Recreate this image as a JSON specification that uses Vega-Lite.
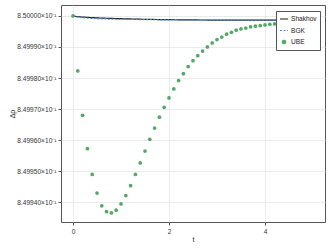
{
  "$schema": "https://vega.github.io/schema/vega-lite/v6.json",
  "width": 264,
  "height": 217,
  "autosize": "none",
  "padding": {"left": 61, "top": 5, "right": 7, "bottom": 27},
  "background": "white",
  "config": {
    "font": "Liberation Sans",
    "view": {"stroke": "#555555", "strokeWidth": 1},
    "axis": {
      "domain": false,
      "gridColor": "#e6e6e6",
      "gridWidth": 0.8,
      "tickColor": "#555555",
      "tickSize": 3,
      "labelFontSize": 6.6,
      "labelColor": "#333333",
      "titleFontSize": 7,
      "titleFontWeight": "normal",
      "titleColor": "#222222"
    }
  },
  "datasets": {
    "lines": [
      {"t": 0, "rho": 0.8500000, "series": "Shakhov"},
      {"t": 0.1, "rho": 0.84999977, "series": "Shakhov"},
      {"t": 0.25, "rho": 0.84999958, "series": "Shakhov"},
      {"t": 0.5, "rho": 0.84999936, "series": "Shakhov"},
      {"t": 1, "rho": 0.8499991, "series": "Shakhov"},
      {"t": 1.5, "rho": 0.8499989, "series": "Shakhov"},
      {"t": 2, "rho": 0.84999878, "series": "Shakhov"},
      {"t": 3, "rho": 0.84999865, "series": "Shakhov"},
      {"t": 4, "rho": 0.84999862, "series": "Shakhov"},
      {"t": 5, "rho": 0.84999862, "series": "Shakhov"},
      {"t": 0, "rho": 0.8500000, "series": "BGK"},
      {"t": 0.1, "rho": 0.8499996, "series": "BGK"},
      {"t": 0.25, "rho": 0.84999936, "series": "BGK"},
      {"t": 0.5, "rho": 0.8499991, "series": "BGK"},
      {"t": 1, "rho": 0.8499989, "series": "BGK"},
      {"t": 1.5, "rho": 0.8499988, "series": "BGK"},
      {"t": 2, "rho": 0.8499987, "series": "BGK"},
      {"t": 3, "rho": 0.84999865, "series": "BGK"},
      {"t": 4, "rho": 0.84999862, "series": "BGK"},
      {"t": 5, "rho": 0.84999862, "series": "BGK"}
    ],
    "ube": [
      {"t": 0.0, "rho": 0.8500000, "series": "UBE"},
      {"t": 0.1, "rho": 0.8499823, "series": "UBE"},
      {"t": 0.2, "rho": 0.8499680, "series": "UBE"},
      {"t": 0.3, "rho": 0.8499573, "series": "UBE"},
      {"t": 0.4, "rho": 0.8499490, "series": "UBE"},
      {"t": 0.5, "rho": 0.8499430, "series": "UBE"},
      {"t": 0.6, "rho": 0.8499389, "series": "UBE"},
      {"t": 0.7, "rho": 0.8499370, "series": "UBE"},
      {"t": 0.8, "rho": 0.8499366, "series": "UBE"},
      {"t": 0.9, "rho": 0.8499375, "series": "UBE"},
      {"t": 1.0, "rho": 0.8499395, "series": "UBE"},
      {"t": 1.1, "rho": 0.8499422, "series": "UBE"},
      {"t": 1.2, "rho": 0.8499454, "series": "UBE"},
      {"t": 1.3, "rho": 0.8499490, "series": "UBE"},
      {"t": 1.4, "rho": 0.8499527, "series": "UBE"},
      {"t": 1.5, "rho": 0.8499565, "series": "UBE"},
      {"t": 1.6, "rho": 0.8499603, "series": "UBE"},
      {"t": 1.7, "rho": 0.8499639, "series": "UBE"},
      {"t": 1.8, "rho": 0.8499674, "series": "UBE"},
      {"t": 1.9, "rho": 0.8499706, "series": "UBE"},
      {"t": 2.0, "rho": 0.8499736, "series": "UBE"},
      {"t": 2.1, "rho": 0.8499765, "series": "UBE"},
      {"t": 2.2, "rho": 0.8499792, "series": "UBE"},
      {"t": 2.3, "rho": 0.8499814, "series": "UBE"},
      {"t": 2.4, "rho": 0.8499837, "series": "UBE"},
      {"t": 2.5, "rho": 0.8499856, "series": "UBE"},
      {"t": 2.6, "rho": 0.8499872, "series": "UBE"},
      {"t": 2.7, "rho": 0.8499887, "series": "UBE"},
      {"t": 2.8, "rho": 0.8499900, "series": "UBE"},
      {"t": 2.9, "rho": 0.8499913, "series": "UBE"},
      {"t": 3.0, "rho": 0.8499924, "series": "UBE"},
      {"t": 3.1, "rho": 0.8499932, "series": "UBE"},
      {"t": 3.2, "rho": 0.8499941, "series": "UBE"},
      {"t": 3.3, "rho": 0.8499947, "series": "UBE"},
      {"t": 3.4, "rho": 0.8499954, "series": "UBE"},
      {"t": 3.5, "rho": 0.8499958, "series": "UBE"},
      {"t": 3.6, "rho": 0.8499961, "series": "UBE"},
      {"t": 3.7, "rho": 0.8499965, "series": "UBE"},
      {"t": 3.8, "rho": 0.8499967, "series": "UBE"},
      {"t": 3.9, "rho": 0.8499969, "series": "UBE"},
      {"t": 4.0, "rho": 0.8499971, "series": "UBE"},
      {"t": 4.1, "rho": 0.8499973, "series": "UBE"},
      {"t": 4.2, "rho": 0.8499974, "series": "UBE"},
      {"t": 4.3, "rho": 0.8499976, "series": "UBE"},
      {"t": 4.4, "rho": 0.8499977, "series": "UBE"},
      {"t": 4.5, "rho": 0.8499978, "series": "UBE"},
      {"t": 4.6, "rho": 0.8499979, "series": "UBE"},
      {"t": 4.7, "rho": 0.8499980, "series": "UBE"},
      {"t": 4.8, "rho": 0.8499981, "series": "UBE"},
      {"t": 4.9, "rho": 0.8499982, "series": "UBE"},
      {"t": 5.0, "rho": 0.8499982, "series": "UBE"}
    ]
  },
  "encoding": {
    "x": {
      "field": "t", "type": "quantitative",
      "scale": {"domain": [-0.25, 5.25], "nice": false, "zero": false},
      "axis": {"values": [0, 2, 4], "title": "t", "labelPadding": 3, "titleX": 132, "titleY": 17, "titleBaseline": "middle"}
    },
    "y": {
      "field": "rho", "type": "quantitative",
      "scale": {"domain": [0.8499337, 0.8500035], "nice": false, "zero": false},
      "axis": {
        "values": [0.84994, 0.84995, 0.84996, 0.84997, 0.84998, 0.84999, 0.85],
        "labelExpr": "format(datum.value*10, '.5f') + '×10⁻¹'",
        "labelPadding": 2,
        "title": "Δρ",
        "titleAngle": -90,
        "titleX": -49,
        "titleY": 108.5,
        "titleAlign": "center",
        "titleBaseline": "middle"
      }
    },
    "color": {
      "field": "series", "type": "nominal",
      "scale": {"domain": ["Shakhov", "BGK", "UBE"], "range": ["#1c1c1c", "#4a8fd6", "#55a868"]},
      "legend": {
        "title": null,
        "orient": "none",
        "legendX": 215,
        "legendY": 6,
        "fillColor": "white",
        "strokeColor": "#555555",
        "padding": 3,
        "labelFontSize": 6.6,
        "labelColor": "#222222",
        "rowPadding": 2.5,
        "symbolSize": 64,
        "labelOffset": 2,
        "encode": {
          "symbols": {
            "update": {
              "shape": {"signal": "datum.value === 'UBE' ? 'circle' : 'stroke'"},
              "size": {"signal": "datum.value === 'UBE' ? 12 : 64"},
              "strokeDash": {"signal": "datum.value === 'BGK' ? [2, 1.5] : [1, 0]"},
              "fill": {"signal": "datum.value === 'UBE' ? '#55a868' : 'transparent'"},
              "stroke": {"signal": "datum.value === 'UBE' ? 'transparent' : (datum.value === 'BGK' ? '#4a8fd6' : '#1c1c1c')"},
              "strokeWidth": {"value": 1.2},
              "opacity": {"value": 1}
            }
          }
        }
      }
    }
  },
  "layer": [
    {
      "data": {"name": "lines"},
      "mark": {"type": "line", "strokeWidth": 1.2, "interpolate": "monotone"},
      "encoding": {
        "strokeDash": {
          "field": "series", "type": "nominal",
          "scale": {"domain": ["Shakhov", "BGK"], "range": [[1, 0], [2, 1.5]]},
          "legend": null
        },
        "order": {"field": "t", "type": "quantitative"}
      }
    },
    {
      "data": {"name": "ube"},
      "mark": {"type": "point", "filled": true, "size": 14, "opacity": 1, "shape": "circle"}
    }
  ]
}
